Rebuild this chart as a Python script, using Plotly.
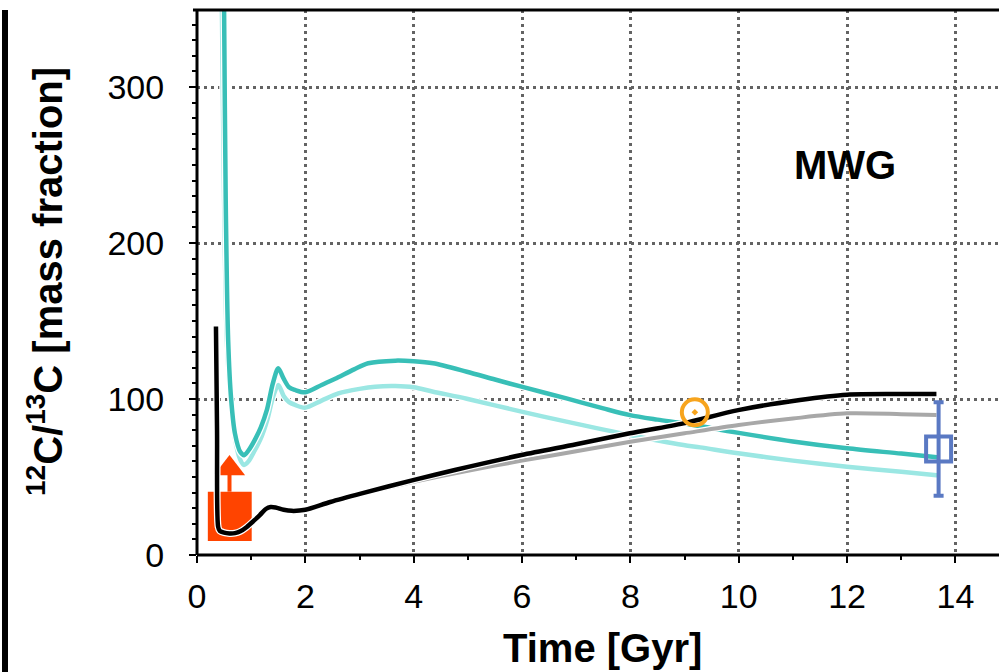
import plotly.graph_objects as go

# ---------------- data ----------------
# dark teal model
teal_t = [0.48, 0.50, 0.53, 0.575, 0.63, 0.70, 0.80, 0.87, 0.95, 1.07, 1.18, 1.29, 1.40, 1.50,
          1.60, 1.70, 1.81, 2.00, 2.30, 2.55, 2.90, 3.16, 3.66, 4.00, 4.36, 4.98, 5.50, 5.99,
          6.82, 7.50, 7.99, 8.50, 9.00, 9.50, 10.0, 11.0, 12.0, 13.0, 13.7]
teal_v = [420, 349, 228, 138, 100, 78, 66, 64, 67, 74, 82, 93, 110, 119.7,
          113, 107.5, 105.8, 104.3, 109, 113, 119, 122.9, 124.6, 124.2, 122.9, 117.5, 112.5, 107.9,
          100.4, 94, 89.7, 86.8, 84.3, 81.3, 78.3, 72.8, 68.4, 65.0, 62.5]

# light teal model
lteal_t = [0.43, 0.46, 0.50, 0.55, 0.62, 0.70, 0.80, 0.87, 0.95, 1.05, 1.19, 1.30, 1.40, 1.50,
           1.60, 1.70, 1.81, 1.99, 2.30, 2.61, 3.00, 3.29, 3.66, 4.00, 4.36, 4.98, 5.99, 6.82,
           7.99, 8.98, 9.29, 9.99, 11.0, 12.0, 13.0, 13.7]
lteal_v = [420, 349, 228, 138, 100, 75, 61, 57.7, 60, 66, 75.8, 87, 101, 109,
           102, 98, 96.2, 94.4, 99, 103.6, 106.5, 107.9, 108.3, 107.5, 104.7, 100.2, 91.9, 85.5,
           76.9, 70.5, 69.0, 65.2, 60.5, 56.6, 53.3, 51.0]

# black model
black_t = [0.35, 0.37, 0.39, 0.42, 0.50, 0.60, 0.70, 0.80, 0.92, 1.05, 1.16, 1.27, 1.36, 1.45,
           1.60, 1.75, 2.00, 2.46, 3.04, 3.99, 4.76, 5.99, 7.00, 7.99, 8.98, 9.99, 11.13,
           12.0, 13.0, 13.65]
black_v = [146.5, 80, 18, 15.5, 14.3, 13.8, 14.0, 15.2, 18.0, 22.0, 25.6, 29.5, 30.8, 30.5,
           29.0, 28.3, 29.0, 34.0, 39.5, 48.0, 54.5, 64.1, 71.0, 78.0, 84.4, 92.9, 99.4,
           102.8, 103.2, 103.2]

# gray model
gray_t = [2.00, 2.46, 3.04, 3.50, 4.00, 5.00, 6.00, 7.00, 8.00, 9.00, 10.0, 11.0, 12.0, 13.0, 13.65]
gray_v = [29.0, 34.0, 39.3, 43.0, 47.0, 54.0, 60.5, 66.5, 72.6, 78.0, 83.3, 87.5, 90.8, 90.3, 89.7]

# observations
sun_t = [9.19]
sun_v = [91.5]
ism_t = [13.69]
ism_v = [68.0]
ism_err = [30.0]

# early lower limit box + arrow
box_t = [0.20, 1.01]
box_v = [9.0, 40.6]
arrow_t = [0.60, 0.60]
arrow_v = [40.6, 52.0]
arrowhead_v = [55.5]

x_ticks = [0, 2, 4, 6, 8, 10, 12, 14]
y_ticks = [0, 100, 200, 300]

# ---------------- figure ----------------
FONT = "Liberation Sans, Arial, sans-serif"
fig = go.Figure()

# red box
fig.add_trace(go.Scatter(
    x=[box_t[0], box_t[1], box_t[1], box_t[0], box_t[0]],
    y=[box_v[0], box_v[0], box_v[1], box_v[1], box_v[0]],
    mode="lines", fill="toself", fillcolor="#ff4400",
    line=dict(color="#ff4400", width=0), hoverinfo="skip", showlegend=False))
fig.add_trace(go.Scatter(x=arrow_t, y=arrow_v, mode="lines",
                         line=dict(color="#ff4400", width=4), showlegend=False))
fig.add_trace(go.Scatter(x=[arrow_t[0]], y=arrowhead_v, mode="markers",
                         marker=dict(symbol="triangle-up", size=27, color="#ff4400"),
                         showlegend=False))


def add_line(t, v, color, width):
    fig.add_trace(go.Scatter(x=t, y=v, mode="lines",
                             line=dict(color="white", width=width + 2.5, shape="spline", smoothing=0.8),
                             showlegend=False, hoverinfo="skip"))
    fig.add_trace(go.Scatter(x=t, y=v, mode="lines",
                             line=dict(color=color, width=width, shape="spline", smoothing=0.8),
                             showlegend=False))


add_line(lteal_t, lteal_v, "#9be7e3", 4.5)
add_line(teal_t, teal_v, "#38bfb7", 4.5)
add_line(gray_t, gray_v, "#a8a8a8", 4)
add_line(black_t, black_v, "#000000", 4.5)

# ISM point with error bar
fig.add_trace(go.Scatter(
    x=ism_t, y=ism_v, mode="markers",
    marker=dict(symbol="square-open", size=25, color="#5a79c3", line=dict(width=4, color="#5a79c3")),
    error_y=dict(type="data", array=ism_err, visible=True, color="#5a79c3", thickness=4, width=5),
    showlegend=False))

# Sun
fig.add_trace(go.Scatter(
    x=sun_t, y=sun_v, mode="markers",
    marker=dict(symbol="circle-open-dot", size=26, color="#f7a41d", line=dict(width=4, color="#f7a41d")),
    showlegend=False))

axis_common = dict(
    showline=False,
    ticks="outside", ticklen=7, tickwidth=2, tickcolor="black",
    showgrid=True, gridcolor="#636363", gridwidth=3, griddash="3px,4px",
    zeroline=False,
    tickfont=dict(family=FONT, size=34, color="black"),
)

fig.update_xaxes(range=[0, 14.805], tickvals=x_ticks,
                 minor=dict(dtick=1, ticklen=4, tickwidth=1.5, tickcolor="black", showgrid=False),
                 ticklabelstandoff=4, **axis_common)
fig.update_yaxes(range=[0, 349.4], tickvals=y_ticks,
                 minor=dict(dtick=10, ticklen=4, tickwidth=1.5, tickcolor="black", showgrid=False),
                 ticklabelstandoff=18, **axis_common)

# axis frame lines (left, bottom, top)
fig.add_shape(type="line", xref="x domain", yref="y domain", x0=0, x1=0, y0=0, y1=1,
              line=dict(color="black", width=3), layer="above")
fig.add_shape(type="line", xref="x domain", yref="y domain", x0=0, x1=1, y0=0, y1=0,
              line=dict(color="black", width=3), layer="above")
fig.add_shape(type="line", xref="x domain", yref="y domain", x0=-0.005, x1=1, y0=1, y1=1,
              line=dict(color="black", width=3), layer="above")

fig.add_annotation(x=11.96, y=250, xref="x", yref="y", text="MWG", showarrow=False,
                   font=dict(family=FONT, size=40, color="black", weight="bold"))
fig.add_annotation(x=0.505, y=-0.171, xref="paper", yref="paper", text="Time [Gyr]",
                   showarrow=False, yanchor="middle",
                   font=dict(family=FONT, size=40, color="black", weight="bold"))
fig.add_annotation(x=-0.1895, y=0.501, xref="paper", yref="paper",
                   text="<sup>12</sup>C/<sup>13</sup>C [mass fraction]", textangle=-90,
                   showarrow=False, xanchor="center", yanchor="middle",
                   font=dict(family=FONT, size=40, color="black", weight="bold"))

# left page frame line
fig.add_shape(type="line", xref="paper", yref="paper", x0=-0.2394, x1=-0.2394, y0=1.0, y1=-0.215,
              line=dict(color="black", width=6))

fig.update_layout(
    width=999, height=672,
    margin=dict(l=197, r=0, t=10, b=117),
    paper_bgcolor="white", plot_bgcolor="white",
    showlegend=False,
)

fig.write_html("out.html")
